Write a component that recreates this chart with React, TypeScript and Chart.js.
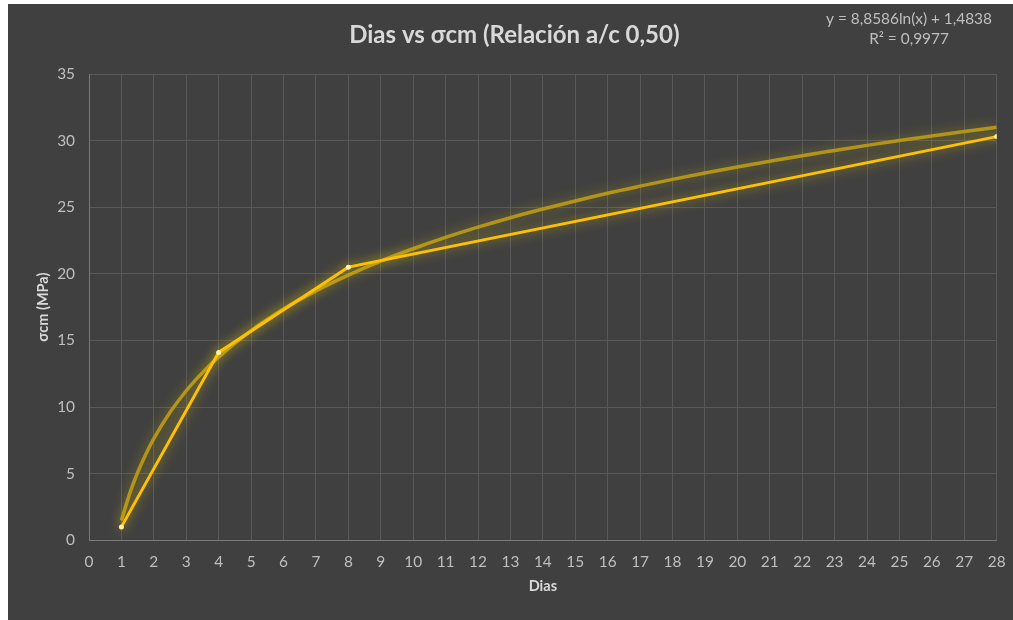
import React, { useEffect, useRef } from "react";
import { Chart, registerables } from "chart.js";

Chart.register(...registerables);

const chartTitle = "Dias vs σcm (Relación a/c 0,50)";
const xTitle = "Dias";
const yTitle = "σcm (MPa)";
const equationLines = ["y = 8,8586ln(x) + 1,4838", "R² = 0,9977"];

const days = [1, 4, 8, 28];
const sigma = [1.0, 14.1, 20.5, 30.3];

const trendDays = [1, 1.25, 1.5, 1.75, 2, 2.5, 3, 3.5, 4, 5, 6, 7, 8, 9, 10, 11, 12, 13, 14, 15, 16, 17, 18, 19, 20, 21, 22, 23, 24, 25, 26, 27, 28];
const trendSigma = [1.48, 3.46, 5.08, 6.44, 7.62, 9.6, 11.22, 12.58, 13.76, 15.74, 17.36, 18.72, 19.9, 20.95, 21.88, 22.73, 23.5, 24.21, 24.86, 25.47, 26.05, 26.58, 27.09, 27.57, 28.02, 28.45, 28.87, 29.26, 29.64, 30.0, 30.35, 30.68, 31.0];

const glowPlugin = {
  id: "glow",
  beforeDatasetDraw(chart: any, args: any) {
    const ctx = chart.ctx;
    ctx.save();
    ctx.shadowColor = args.index === 0 ? "rgba(255, 220, 0, 0.6)" : "rgba(225, 200, 0, 0.5)";
    ctx.shadowBlur = 12;
  },
  afterDatasetDraw(chart: any) {
    chart.ctx.restore();
  },
};

const equationPlugin = {
  id: "equation",
  afterDraw(chart: any) {
    const ctx = chart.ctx;
    ctx.save();
    ctx.font = "15.4px Lato";
    ctx.fillStyle = "#bfbfbf";
    ctx.textAlign = "center";
    ctx.textBaseline = "middle";
    ctx.fillText(equationLines[0], 901, 15);
    ctx.fillText(equationLines[1], 901, 35);
    ctx.restore();
  },
};

export default function App() {
  const ref = useRef<HTMLCanvasElement | null>(null);

  useEffect(() => {
    if (!ref.current) return;
    const chart = new Chart(ref.current, {
      type: "line",
      data: {
        datasets: [
          {
            label: "σcm",
            data: days.map((d, i) => ({ x: d, y: sigma[i] })),
            borderColor: "#FFC000",
            borderWidth: 3,
            pointRadius: 2.5,
            pointBackgroundColor: "#fff2a8",
            pointBorderWidth: 0,
            tension: 0,
          },
          {
            label: "Tendencia",
            data: trendDays.map((d, i) => ({ x: d, y: trendSigma[i] })),
            borderColor: "rgba(190, 155, 20, 0.9)",
            borderWidth: 3.5,
            pointRadius: 0,
            cubicInterpolationMode: "monotone",
          },
        ],
      },
      options: {
        animation: false,
        responsive: false,
        maintainAspectRatio: false,
        layout: { padding: { top: 4, left: 24, right: 16.3, bottom: 21.3 } },
        plugins: {
          legend: { display: false },
          tooltip: { enabled: false },
          title: {
            display: true,
            text: chartTitle,
            color: "#d9d9d9",
            font: { family: "Lato", size: 24, weight: "bold", lineHeight: 1.2 },
            padding: { top: 12.5, bottom: 24.7 },
          },
        },
        scales: {
          x: {
            type: "linear",
            min: 0,
            max: 28,
            ticks: { stepSize: 1, color: "#bfbfbf", font: { family: "Lato", size: 15.4 }, padding: 13, maxRotation: 0, autoSkip: false },
            grid: { color: "#595959", drawTicks: false, lineWidth: 1 },
            border: { color: "#7a7a7a", width: 1 },
            title: { display: true, text: xTitle, color: "#d9d9d9", font: { family: "Lato", size: 14.5, weight: "bold", lineHeight: 1.2 }, padding: { top: 4, bottom: 4 } },
            afterFit(scale: any) {
              scale.height = 58.5;
              scale.paddingLeft = 8;
              scale.paddingRight = 8;
            },
          },
          y: {
            min: 0,
            max: 35,
            ticks: { stepSize: 5, color: "#bfbfbf", font: { family: "Lato", size: 15.4 }, padding: 14 },
            grid: { color: "#595959", drawTicks: false, lineWidth: 1 },
            border: { color: "#7a7a7a", width: 1 },
            title: { display: true, text: yTitle, color: "#d9d9d9", font: { family: "Lato", size: 14.5, weight: "bold", lineHeight: 1.2 }, padding: { top: 3, bottom: 4 } },
            afterFit(scale: any) {
              scale.width = 57;
            },
          },
        },
      },
      plugins: [glowPlugin, equationPlugin],
    } as any);
    return () => chart.destroy();
  }, []);

  return (
    <div style={{ position: "fixed", left: 8, top: 4, width: 1005, height: 616, background: "#404040" }}>
      <canvas ref={ref} width={1005} height={616} style={{ display: "block", width: 1005, height: 616 }} />
    </div>
  );
}
